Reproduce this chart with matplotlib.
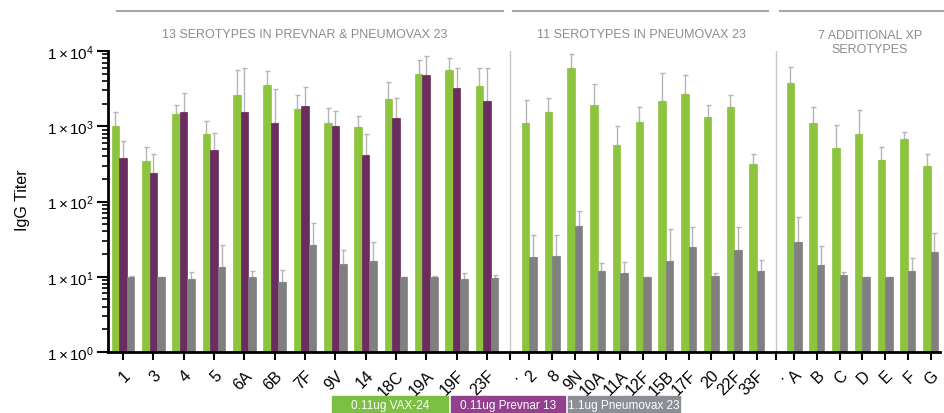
import numpy as np
import matplotlib.pyplot as plt
import matplotlib.transforms as mtransforms
from matplotlib.patches import Rectangle
from matplotlib.ticker import LogLocator, NullFormatter, FixedLocator

plt.rcParams['font.family'] = ['Liberation Sans', 'DejaVu Sans']
plt.rcParams['mathtext.fontset'] = 'custom'
plt.rcParams['mathtext.rm'] = 'Liberation Sans'
plt.rcParams['mathtext.it'] = 'Liberation Sans:italic'

# serotype groups
cats1 = ['1', '3', '4', '5', '6A', '6B', '7F', '9V', '14', '18C', '19A', '19F', '23F']
cats2 = ['2', '8', '9N', '10A', '11A', '12F', '15B', '17F', '20', '22F', '33F']
cats3 = ['A', 'B', 'C', 'D', 'E', 'F', 'G']

# group 1: VAX-24, Prevnar 13, Pneumovax 23 (mean, upper error end)
vax1 = [1020, 345, 1460, 782, 2566, 3485, 1700, 1107, 980, 2290, 4935, 5520, 3380]
vax1_hi = [1570, 535, 1905, 1166, 5580, 5470, 2620, 1773, 1373, 3820, 7510, 8070, 5990]
prev1 = [383, 240, 1570, 478, 1570, 1120, 1848, 1010, 415, 1278, 4786, 3210, 2170]
prev1_hi = [645, 427, 2780, 815, 5880, 3115, 3280, 1600, 782, 2410, 8490, 5930, 5880]
pneu1 = [9.9, 10, 9.2, 13.5, 10, 8.5, 26.4, 14.6, 16.3, 10, 9.8, 9.2, 9.6]
pneu1_hi = [10.2, 10, 11.4, 26.1, 12.0, 12.3, 51.4, 22.9, 29.0, 10, 10.2, 11.3, 10.5]

# group 2: VAX-24, Pneumovax 23
vax2 = [1096, 1537, 5930, 1905, 563, 1130, 2154, 2670, 1318, 1829, 318]
vax2_hi = [2200, 2410, 9030, 3660, 1020, 1829, 5040, 4786, 1944, 2566, 423]
pneu2 = [18.1, 19.0, 47.4, 11.8, 11.3, 10, 16.0, 24.9, 10.2, 22.9, 12.1]
pneu2_hi = [36.3, 36.3, 75.1, 15.2, 15.7, 10, 43.3, 45.9, 11.2, 45.5, 16.7]

# group 3: VAX-24, Pneumovax 23
vax3 = [3743, 1107, 520, 782, 352, 685, 296]
vax3_hi = [6050, 1808, 1052, 1667, 535, 832, 423]
pneu3 = [29.0, 14.5, 10.4, 10, 10, 11.9, 21.1]
pneu3_hi = [63, 25.7, 11.5, 10, 10, 17.8, 38.6]

titles = ['13 SEROTYPES IN PREVNAR & PNEUMOVAX 23', '11 SEROTYPES IN PNEUMOVAX 23',
          '7 ADDITIONAL XP\nSEROTYPES']
legend_labels = ['0.11ug VAX-24', '0.11ug Prevnar 13', '1.1ug Pneumovax 23']

green = '#8cc43f'
purple = '#6b2d60'
gray = '#808080'
errc = '#b5b5b5'
leg_colors = ['#7bbf43', '#93408e', '#8b8f95']

# x layout
x1 = np.arange(len(cats1)) * 1.0
sep1 = x1[-1] + 0.77
x2 = sep1 + 0.63 + np.arange(len(cats2)) * 0.75
sep2 = x2[-1] + 0.63
x3 = sep2 + 0.6 + np.arange(len(cats3)) * 0.75
w = 0.25

fig = plt.figure(figsize=(9.44, 4.14), dpi=100)
ax = fig.add_axes([108/944, 61/414, 832/944, 301/414])


def bars(x, vals, hi, color):
    vals = np.array(vals)
    err = np.array(hi) - vals
    ax.bar(x, vals, w, color=color, edgecolor=color, linewidth=0.5, zorder=2)
    ax.errorbar(x, vals, yerr=[np.zeros_like(err), err], fmt='none', ecolor=errc,
                elinewidth=1, capsize=1.8, capthick=1, zorder=1)


bars(x1 - w, vax1, vax1_hi, green)
bars(x1, prev1, prev1_hi, purple)
bars(x1 + w, pneu1, pneu1_hi, gray)
bars(x2 - w/2, vax2, vax2_hi, green)
bars(x2 + w/2, pneu2, pneu2_hi, gray)
bars(x3 - w/2, vax3, vax3_hi, green)
bars(x3 + w/2, pneu3, pneu3_hi, gray)

for s in [sep1, sep2]:
    ax.axvline(s, color='#c8c8c8', lw=1, zorder=0)

ax.set_yscale('log')
ax.set_ylim(1, 1e4)
ax.set_xlim(-0.495, 26.94)
ax.yaxis.set_major_locator(FixedLocator([1, 10, 100, 1000, 10000]))
ax.set_yticklabels([r'$\mathregular{1\times10^{%d}}$' % i for i in range(5)], fontsize=11)
ax.yaxis.set_minor_locator(LogLocator(base=10, subs=np.arange(2, 10)))
ax.yaxis.set_minor_formatter(NullFormatter())

ticks = list(x1) + [sep1] + list(x2) + [sep2] + list(x3)
labels = cats1 + ['.'] + cats2 + ['.'] + cats3
ax.set_xticks(ticks)
ax.set_xticklabels(labels, rotation=45, ha='right', rotation_mode='anchor', fontsize=11.5)
ax.tick_params(axis='x', length=6, width=1.5, pad=5)
ax.tick_params(axis='y', which='major', length=8, width=1.5, pad=2)
ax.tick_params(axis='y', which='minor', length=4, width=1.2)

for sp in ['top', 'right']:
    ax.spines[sp].set_visible(False)
ax.spines['left'].set_linewidth(2)
ax.spines['bottom'].set_linewidth(2)
ax.spines['left'].set_bounds(1, 1e4)

fig.text(22/944, 1 - 200/414, 'IgG Titer', rotation=90, ha='center', va='center', fontsize=11.5)

# group headers
trans = mtransforms.blended_transform_factory(ax.transData, ax.transAxes)
spans = [(-0.2, sep1 - 0.24), (sep1 + 0.09, sep2 - 0.26), (sep2 + 0.13, 27.1)]
centers = [x1.mean(), x2.mean() - 0.05, x3.mean() + 0.25]
for (a, b), c, t in zip(spans, centers, titles):
    ax.plot([a, b], [1.133, 1.133], color='#a8a8a8', lw=1.5, transform=trans, clip_on=False)
    ax.text(c, 1.056 if '\n' not in t else 1.03, t, transform=trans, ha='center', va='center',
            fontsize=9, color='#8c8c8c', linespacing=1.3)

# legend boxes
boxes = [(332, 448), (451, 565), (568, 680)]
for (a, b), col, lab in zip(boxes, leg_colors, legend_labels):
    fig.patches.append(Rectangle((a/944, 0), (b - a)/944, 17/414, transform=fig.transFigure,
                                 color=col, zorder=3))
    fig.text((a + b)/2/944, 8/414, lab, ha='center', va='center', color='white', fontsize=8.5,
             zorder=4)

fig.savefig('out.png', dpi=100)
